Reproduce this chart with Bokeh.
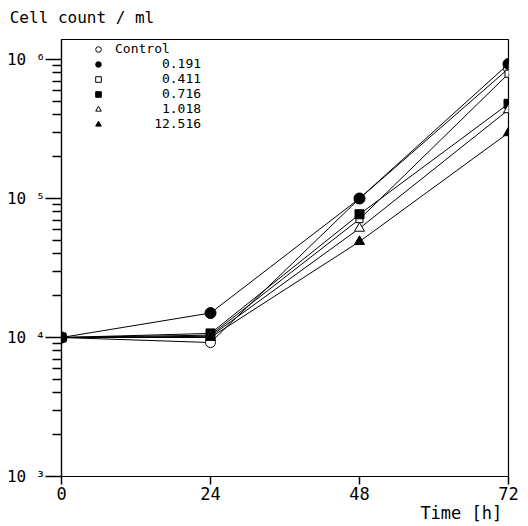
import math
from bokeh.plotting import figure
from bokeh.models import FixedTicker, Legend, LegendItem, Range1d, LinearAxis
from bokeh.embed import file_html
from bokeh.resources import INLINE

# ---- data ----
hours = [0, 24, 48, 72]
series_names = ["Control", "0.191", "0.411", "0.716", "1.018", "12.516"]
control = [1.0e4, 9.2e3, 1.0e5, 8.6e5]
conc_0191 = [1.0e4, 1.5e4, 1.0e5, 9.3e5]
conc_0411 = [1.0e4, 1.04e4, 7.1e4, 7.9e5]
conc_0716 = [1.0e4, 1.07e4, 7.7e4, 4.8e5]
conc_1018 = [1.0e4, 1.02e4, 6.1e4, 4.35e5]
conc_12516 = [1.0e4, 1.0e4, 4.9e4, 2.97e5]
series_values = [control, conc_0191, conc_0411, conc_0716, conc_1018, conc_12516]

x_ticks = [0, 24, 48, 72]
y_ticks = [1e3, 1e4, 1e5, 1e6]
y_tick_labels = ["10 \u00b3", "10 \u2074", "10 \u2075", "10 \u2076"]
y_minor = [k * 10 ** d for d in range(3, 6) for k in range(2, 10)]
y_title = "Cell count / ml"
x_title = "Time [h]"

# ---- styles ----
markers = [
    dict(marker="circle", size=10, fill_color="white"),
    dict(marker="circle", size=11, fill_color="black"),
    dict(marker="square", size=7, fill_color="white"),
    dict(marker="square", size=9, fill_color="black"),
    dict(marker="triangle", size=10, fill_color="white"),
    dict(marker="triangle", size=10, fill_color="black"),
]

FONT = "DejaVu Sans Mono"
TICK = "black"
L, R, T, B = 61, 20, 39, 50
W, H = 528, 526
FW, FH = W - L - R, H - T - B
YTOP = 10 ** (6 + 20 / 139)

p = figure(width=W, height=H, y_axis_type="log",
           x_range=Range1d(0, 72), y_range=Range1d(1e3, YTOP),
           output_backend="svg", toolbar_location=None,
           min_border_left=L, min_border_right=R, min_border_top=T, min_border_bottom=B)
p.grid.visible = False
p.outline_line_color = "black"
p.outline_line_width = 1.2
p.background_fill_color = "white"
p.border_fill_color = "white"

# main x axis
xa = p.below[0]
xa.ticker = FixedTicker(ticks=x_ticks, minor_ticks=[])
xa.major_tick_out = 8
xa.major_tick_in = 0
xa.minor_tick_out = 0
xa.minor_tick_in = 0
xa.axis_line_color = "black"
xa.axis_line_width = 1.2
xa.major_tick_line_color = TICK
xa.major_tick_line_width = 1.5
xa.major_label_text_font = FONT
xa.major_label_text_font_size = "17px"
xa.major_label_text_color = "black"
xa.major_label_standoff = 2

# main y axis
ya = p.left[0]
ya.ticker = FixedTicker(ticks=y_ticks, minor_ticks=y_minor)
ya.major_label_overrides = {t: lab for t, lab in zip(y_ticks, y_tick_labels)}
ya.major_tick_out = 16
ya.major_tick_in = 0
ya.minor_tick_out = 9
ya.minor_tick_in = 0
ya.axis_line_color = "black"
ya.axis_line_width = 1.2
ya.major_tick_line_color = TICK
ya.minor_tick_line_color = TICK
ya.major_tick_line_width = 1.5
ya.minor_tick_line_width = 1.5
ya.major_label_text_font = FONT
ya.major_label_text_font_size = "16px"
ya.major_label_text_color = "black"
ya.major_label_standoff = 0


def text_axis(pos, text, standoff, size):
    """A tick-less axis whose single 'tick label' carries a title text."""
    return LinearAxis(ticker=FixedTicker(ticks=[pos], minor_ticks=[]),
                      major_label_overrides={pos: text},
                      axis_line_color=None, major_tick_line_color=None,
                      minor_tick_line_color=None, major_tick_out=0, major_tick_in=0,
                      major_label_standoff=standoff,
                      major_label_text_font=FONT, major_label_text_font_size=size,
                      major_label_text_color="black")


# y-quantity title above the plot, starting near the left edge
p.add_layout(text_axis(3.3, y_title, 13, "16px"), "above")
# x title below the tick labels, toward the right end
p.add_layout(text_axis(64.4, x_title, 0, "17px"), "below")

# lines then markers
for vals in series_values:
    p.line(hours, vals, line_color="black", line_width=1)

items = []
for name, vals, m in zip(series_names, series_values, markers):
    r = p.scatter(hours, vals, marker=m["marker"], size=m["size"],
                  fill_color=m["fill_color"], line_color="black", line_width=1)
    label = name if name == "Control" else "\u00a0" * (11 - len(name)) + name
    items.append(LegendItem(label=label, renderers=[r]))

ROWH = 15
legend = Legend(items=items, location=(30, FH - 2 - 6 * ROWH),
                glyph_width=14, glyph_height=14, label_height=14,
                label_standoff=10, spacing=0, padding=0, margin=0,
                border_line_color=None, background_fill_alpha=0,
                label_text_font=FONT, label_text_font_size="13px",
                label_text_color="black")
p.add_layout(legend)

open("out.html", "w").write(file_html(p, INLINE))
